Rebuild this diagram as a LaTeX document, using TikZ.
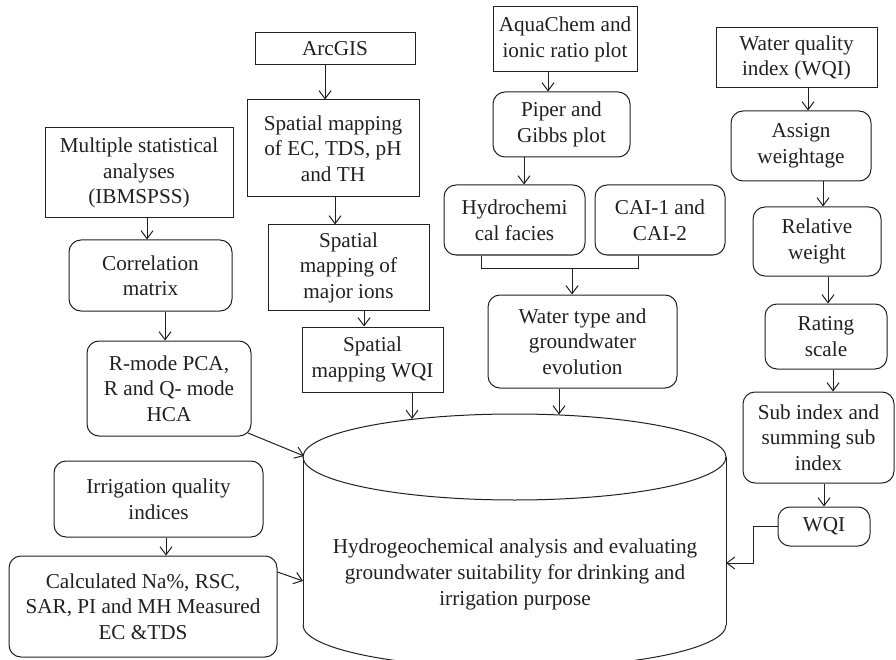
\documentclass[tikz,border=0pt]{standalone}
\usepackage{fontspec}
\setmainfont{Liberation Serif}
\usetikzlibrary{arrows.meta}
\definecolor{ink}{HTML}{231F20}
\begin{document}
\begin{tikzpicture}[x=1pt,y=-1pt,
  every node/.style={font=\fontsize{21.2}{25.5}\selectfont, text=ink, align=center, inner sep=0pt},
  bx/.style n args={4}{draw=ink, line width=1pt, at={({(#1+#3)/2},{(#2+#4)/2})},
     minimum width={#3-#1}, minimum height={#4-#2}},
  sq/.style n args={4}{bx={#1}{#2}{#3}{#4}},
  rd/.style n args={4}{bx={#1}{#2}{#3}{#4}, rounded corners=12pt},
  ln/.style={draw=ink, line width=1pt},
  arr/.style={ln, -{Straight Barb[length=8pt,width=12pt,line width=1pt]}}
]
\useasboundingbox (0,0) rectangle (896,660);

% left column
\node[sq={45}{128}{233}{218}] (mult) {Multiple statistical\\analyses\\(IBMSPSS)};
\node[rd={69}{240}{232}{311}] (corr) {Correlation\\matrix};
\node[rd={87}{341}{251}{436}] (rmode) {R-mode PCA,\\R and Q- mode\\HCA};
\node[rd={54}{461}{263}{537}] (irr) {Irrigation quality\\indices};
\node[rd={9}{556}{277}{657}] (calc) {Calculated Na\%, RSC,\\SAR, PI and MH Measured\\EC \&TDS};

% second column
\node[sq={255}{33}{415}{65}] (arc) {ArcGIS};
\node[sq={247}{100}{419}{197}] (sp1) {Spatial mapping\\of EC, TDS, pH\\and TH};
\node[sq={268}{225}{429}{310}] (sp2) {Spatial\\mapping of\\major ions};
\node[sq={302}{327}{443}{392}] (spw) {Spatial\\mapping WQI};

% third column
\node[sq={493}{7}{637}{72}] (aqua) {AquaChem and\\ionic ratio plot};
\node[rd={493}{92}{630}{157}] (piper) {Piper and\\Gibbs plot};
\node[rd={444}{185}{585}{255}] (hydro) {Hydrochemi\\cal facies};
\node[rd={595}{185}{725}{255}] (cai) {CAI-1 and\\CAI-2};
\node[rd={488}{295}{677}{388}] (wtype) {Water type and\\groundwater\\evolution};

% right column
\node[sq={716}{28}{877}{88}] (wqiidx) {Water quality\\index (WQI)};
\node[rd={731}{111}{871}{181}] (assign) {Assign\\weightage};
\node[rd={753}{207}{881}{276}] (rel) {Relative\\weight};
\node[rd={765}{304}{887}{369}] (rate) {Rating\\scale};
\node[rd={743}{392}{894}{483}] (sub) {Sub index and\\summing sub\\index};
\node[rd={778}{507}{870}{546}] (wqi) {WQI};

% cylinder
\draw[ln] (514.5,457) ellipse[x radius=211.5pt, y radius=43pt];
\draw[ln] (303,457) -- (303,625);
\draw[ln] (726,457) -- (726,625);
\begin{scope}
  \clip (290,625) rectangle (740,700);
  \draw[ln] (514.5,625) ellipse[x radius=211.5pt, y radius=43pt];
\end{scope}
\node[font=\fontsize{21.2}{26}\selectfont] (cyl) at (515,574)
  {Hydrogeochemical analysis and evaluating\\groundwater suitability for drinking and\\irrigation purpose};

% helper coordinates
\coordinate (a1) at (147,0);
\coordinate (a2) at (165,0);
\coordinate (a3) at (166,0);
\coordinate (b1) at (325,0);
\coordinate (b2) at (335,0);
\coordinate (b3) at (364,0);
\coordinate (b4) at (412,0);
\coordinate (c1) at (548,0);
\coordinate (c2) at (524,0);
\coordinate (c4) at (559,0);
\coordinate (d1) at (808,0);
\coordinate (d2) at (823,0);
\coordinate (d3) at (828,0);
\coordinate (d4) at (833,0);
\coordinate (d5) at (824,0);
\coordinate (wb) at (753,0);
\coordinate (bl) at (481,268);
\coordinate (br) at (638,268);
\coordinate (bm) at (572,268);
\coordinate (rstart) at (248,433);
\coordinate (cR) at (304,456);
\coordinate (cC) at (303,581);
\coordinate (cW) at (726,563);
\coordinate (cT1) at (412,419);
\coordinate (cT2) at (559,414.5);

% connectors
\draw[arr] (mult.south -| a1) -- (corr.north -| a1);
\draw[arr] (corr.south -| a2) -- (rmode.north -| a2);
\draw[arr] (irr.south -| a3) -- (calc.north -| a3);
\draw[arr] (rstart) -- (cR);
\draw[arr] (calc.east |- 0,572) -- (cC);

\draw[arr] (arc.south -| b1) -- (sp1.north -| b1);
\draw[arr] (sp1.south -| b2) -- (sp2.north -| b2);
\draw[arr] (sp2.south -| b3) -- (spw.north -| b3);
\draw[arr] (spw.south -| b4) -- (cT1);

\draw[arr] (aqua.south -| c1) -- (piper.north -| c1);
\draw[arr] (piper.south -| c2) -- (hydro.north -| c2);
\draw[ln] (hydro.south -| bl) -- (bl) -- (br) -- (cai.south -| br);
\draw[arr] (bm) -- (wtype.north -| bm);
\draw[arr] (wtype.south -| c4) -- (cT2);

\draw[arr] (wqiidx.south -| d1) -- (assign.north -| d1);
\draw[arr] (assign.south -| d2) -- (rel.north -| d2);
\draw[arr] (rel.south -| d3) -- (rate.north -| d3);
\draw[arr] (rate.south -| d4) -- (sub.north -| d4);
\draw[arr] (sub.south -| d5) -- (wqi.north -| d5);
\draw[arr] (wqi.west) -- (wqi.west -| wb) |- (cW);
\end{tikzpicture}
\end{document}
